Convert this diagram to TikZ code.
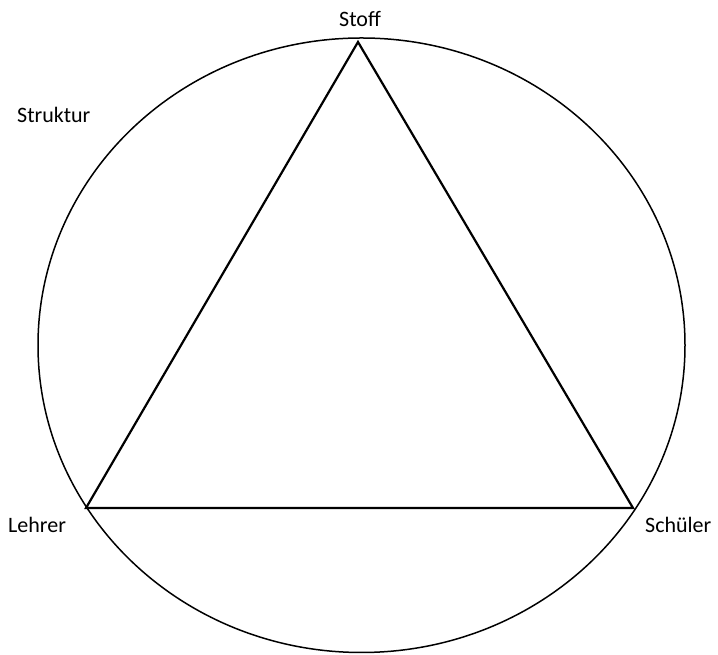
\documentclass[tikz,border=0pt]{standalone}
\usepackage{fontspec}
\setmainfont{Carlito}
\usetikzlibrary{shapes.geometric}
\begin{document}
\begin{tikzpicture}[x=1pt,y=1pt,
  lbl/.style={inner sep=0pt,font=\fontsize{22}{26}\selectfont},
  rim/.style={line width=1.5pt},
  tri/.style={line width=2.2pt,line join=miter}]
\useasboundingbox (0,0) rectangle (718,655);
\node[draw,rim,ellipse,minimum width=647pt,minimum height=614.5pt,inner sep=0pt] (c) at (361.5,309.75) {};
\coordinate (s) at (358,613);
\coordinate (l) at (86,147);
\coordinate (r) at (633,147);
\draw[tri] (s) -- (l) -- (r) -- cycle;
\node[lbl,anchor=base] (stoff) at (360,628) {Stoff};
\node[lbl,anchor=base west] (struktur) at (17,532) {Struktur};
\node[lbl,anchor=base west] (lehrer) at (8,122) {Lehrer};
\node[lbl,anchor=base west] (schueler) at (645,122) {Schüler};
\end{tikzpicture}
\end{document}
